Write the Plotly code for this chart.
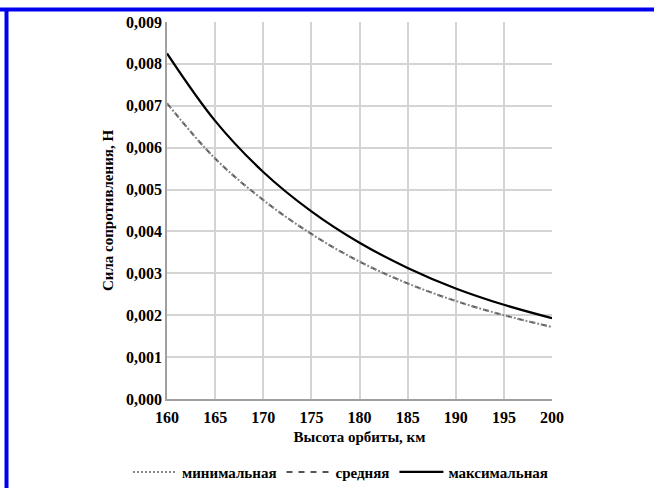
import plotly.graph_objects as go

altitude_km = [160, 165, 170, 175, 180, 185, 190, 195, 200]
drag_min = [0.00706, 0.00574, 0.00475, 0.00394, 0.00328, 0.00276, 0.00234, 0.00200, 0.00172]
drag_avg = [0.00706, 0.00574, 0.00475, 0.00394, 0.00328, 0.00276, 0.00234, 0.00200, 0.00172]
drag_max = [0.00825, 0.00664, 0.00542, 0.00448, 0.00373, 0.00313, 0.00264, 0.00225, 0.00193]

series_names = ["минимальная", "средняя", "максимальная"]
x_title = "Высота орбиты, км"
y_title = "Сила сопротивления, Н"

FONT = "Liberation Serif"

fig = go.Figure()
fig.add_trace(go.Scatter(x=altitude_km, y=drag_avg, name=series_names[1], mode="lines", legendrank=2,
                         line=dict(color="#555555", width=2, dash="6px,6px", shape="spline")))
fig.add_trace(go.Scatter(x=altitude_km, y=drag_min, name=series_names[0], mode="lines", legendrank=1,
                         line=dict(color="#888888", width=2, dash="2px,2px", shape="spline")))
fig.add_trace(go.Scatter(x=altitude_km, y=drag_max, name=series_names[2], mode="lines", legendrank=3,
                         line=dict(color="#000000", width=2.2, shape="spline")))

fig.update_layout(
    width=656, height=488,
    margin=dict(l=167, r=104, t=22, b=89, autoexpand=False),
    paper_bgcolor="white", plot_bgcolor="white",
    separators=", ",
    font=dict(family=FONT, size=15, color="black", weight="bold"),
    showlegend=True,
    legend=dict(orientation="h", x=(128 - 167) / 385, xanchor="left",
                y=-0.194, yanchor="middle",
                font=dict(family=FONT, size=15, weight="bold"),
                itemwidth=44, tracegroupgap=0),
    xaxis=dict(range=[160, 200], dtick=5, tick0=160, showgrid=True, gridcolor="#d4d4d4", gridwidth=1.5,
               showline=True, linecolor="#a0a0a0", linewidth=1.5, ticks="", zeroline=False,
               tickfont=dict(family=FONT, size=16, weight="bold"), ticklabelstandoff=3,
               title=dict(text=x_title, font=dict(family=FONT, size=15, weight="bold"), standoff=7)),
    yaxis=dict(range=[0, 0.009], dtick=0.001, tick0=0, tickformat=".3f", showgrid=True,
               gridcolor="#d4d4d4", gridwidth=1.5, showline=True, linecolor="#a0a0a0", linewidth=1.5,
               ticks="", zeroline=False, tickfont=dict(family=FONT, size=16, weight="bold"),
               title=dict(text=y_title, font=dict(family=FONT, size=15, weight="bold"), standoff=9)),
    shapes=[
        dict(type="line", xref="paper", yref="paper", x0=-167/385, x1=(654-167)/385,
             y0=(399-9.5)/377, y1=(399-9.5)/377, line=dict(color="#0000ee", width=4)),
        dict(type="line", xref="paper", yref="paper", x0=(6.5-167)/385, x1=(6.5-167)/385,
             y0=(399-8)/377, y1=-89/377, line=dict(color="#0000ee", width=4)),
    ],
)

fig.write_html("out.html")
